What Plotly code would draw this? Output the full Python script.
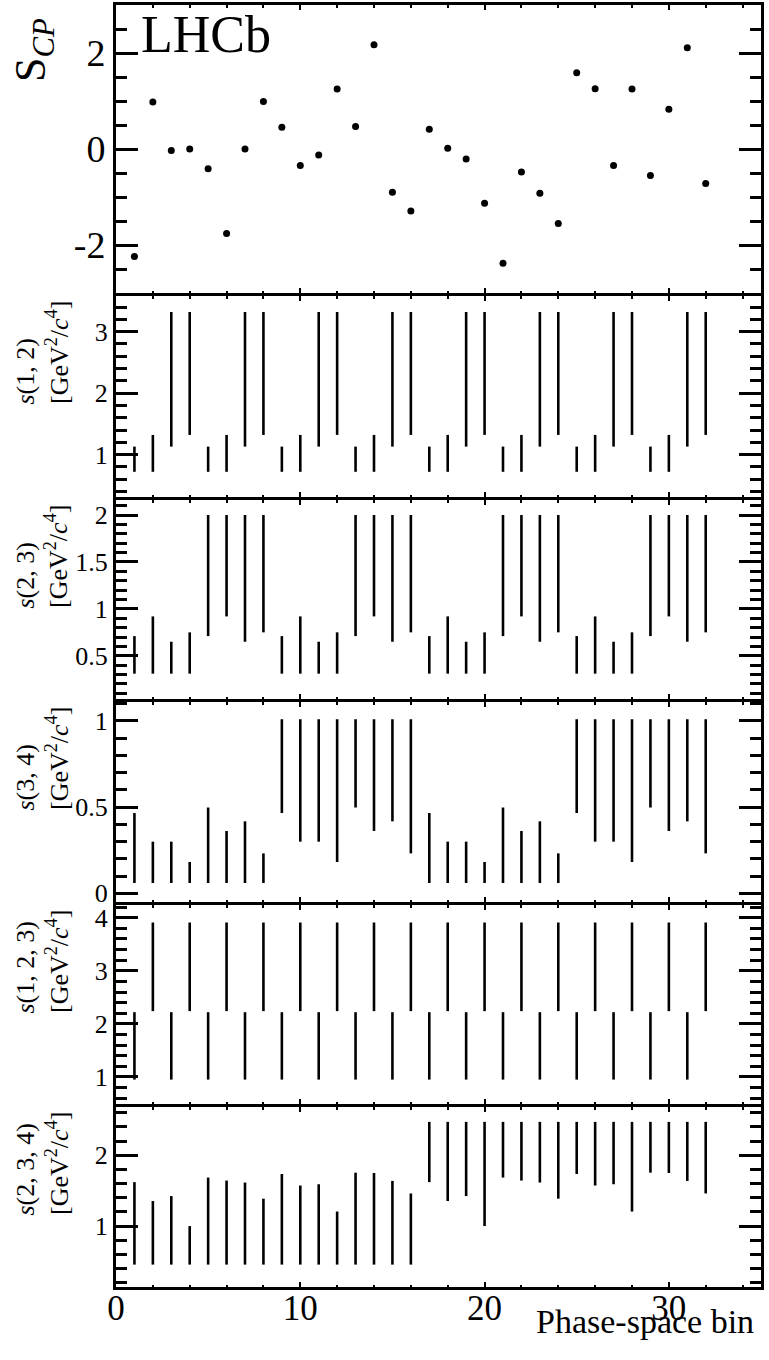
import plotly.graph_objects as go

# ---------------- data ----------------
bins = list(range(1, 33))

scp = [-2.24, 0.98, -0.03, 0.00, -0.41, -1.76, 0.00, 0.99,
       0.455, -0.345, -0.124, 1.25, 0.47, 2.17, -0.90, -1.29,
       0.41, 0.014, -0.21, -1.13, -2.38, -0.48, -0.92, -1.55,
       1.59, 1.255, -0.345, 1.25, -0.55, 0.83, 2.11, -0.72]

s12_lo = [0.72, 0.72, 1.13, 1.32, 0.72, 0.72, 1.13, 1.32,
          0.72, 0.72, 1.13, 1.32, 0.72, 0.72, 1.13, 1.32,
          0.72, 0.72, 1.13, 1.32, 0.72, 0.72, 1.13, 1.32,
          0.72, 0.72, 1.13, 1.32, 0.72, 0.72, 1.13, 1.32]
s12_hi = [1.13, 1.32, 3.32, 3.32, 1.13, 1.32, 3.32, 3.32,
          1.13, 1.32, 3.32, 3.32, 1.13, 1.32, 3.32, 3.32,
          1.13, 1.32, 3.32, 3.32, 1.13, 1.32, 3.32, 3.32,
          1.13, 1.32, 3.32, 3.32, 1.13, 1.32, 3.32, 3.32]

s23_lo = [0.31, 0.31, 0.31, 0.31, 0.71, 0.92, 0.65, 0.75,
          0.31, 0.31, 0.31, 0.31, 0.71, 0.92, 0.65, 0.75,
          0.31, 0.31, 0.31, 0.31, 0.71, 0.92, 0.65, 0.75,
          0.31, 0.31, 0.31, 0.31, 0.71, 0.92, 0.65, 0.75]
s23_hi = [0.71, 0.92, 0.65, 0.75, 2.00, 2.00, 2.00, 2.00,
          0.71, 0.92, 0.65, 0.75, 2.00, 2.00, 2.00, 2.00,
          0.71, 0.92, 0.65, 0.75, 2.00, 2.00, 2.00, 2.00,
          0.71, 0.92, 0.65, 0.75, 2.00, 2.00, 2.00, 2.00]

s34_lo = [0.06, 0.06, 0.06, 0.06, 0.06, 0.06, 0.06, 0.06,
          0.466, 0.30, 0.30, 0.182, 0.498, 0.362, 0.418, 0.232,
          0.06, 0.06, 0.06, 0.06, 0.06, 0.06, 0.06, 0.06,
          0.466, 0.30, 0.30, 0.182, 0.498, 0.362, 0.418, 0.232]
s34_hi = [0.466, 0.30, 0.30, 0.182, 0.498, 0.362, 0.418, 0.232,
          1.01, 1.01, 1.01, 1.01, 1.01, 1.01, 1.01, 1.01,
          0.466, 0.30, 0.30, 0.182, 0.498, 0.362, 0.418, 0.232,
          1.01, 1.01, 1.01, 1.01, 1.01, 1.01, 1.01, 1.01]

s123_lo = [0.95, 2.24, 0.95, 2.24, 0.95, 2.24, 0.95, 2.24,
           0.95, 2.24, 0.95, 2.24, 0.95, 2.24, 0.95, 2.24,
           0.95, 2.24, 0.95, 2.24, 0.95, 2.24, 0.95, 2.24,
           0.95, 2.24, 0.95, 2.24, 0.95, 2.24, 0.95, 2.24]
s123_hi = [2.22, 3.91, 2.22, 3.91, 2.22, 3.91, 2.22, 3.91,
           2.22, 3.91, 2.22, 3.91, 2.22, 3.91, 2.22, 3.91,
           2.22, 3.91, 2.22, 3.91, 2.22, 3.91, 2.22, 3.91,
           2.22, 3.91, 2.22, 3.91, 2.22, 3.91, 2.22, 3.91]

s234_lo = [0.456, 0.456, 0.456, 0.456, 0.456, 0.456, 0.456, 0.456,
           0.456, 0.456, 0.456, 0.456, 0.456, 0.456, 0.456, 0.456,
           1.62, 1.353, 1.423, 1.00, 1.684, 1.642, 1.614, 1.386,
           1.735, 1.572, 1.59, 1.205, 1.753, 1.749, 1.637, 1.46]
s234_hi = [1.62, 1.353, 1.423, 1.00, 1.684, 1.642, 1.614, 1.386,
           1.735, 1.572, 1.59, 1.205, 1.753, 1.749, 1.637, 1.46,
           2.47, 2.47, 2.47, 2.47, 2.47, 2.47, 2.47, 2.47,
           2.47, 2.47, 2.47, 2.47, 2.47, 2.47, 2.47, 2.47]

y_titles = [
    ["S<sub><i>CP</i></sub>"],
    ["<i>s</i>(1, 2)", "[GeV<sup>2</sup>/<i>c</i><sup>4</sup>]"],
    ["<i>s</i>(2, 3)", "[GeV<sup>2</sup>/<i>c</i><sup>4</sup>]"],
    ["<i>s</i>(3, 4)", "[GeV<sup>2</sup>/<i>c</i><sup>4</sup>]"],
    ["<i>s</i>(1, 2, 3)", "[GeV<sup>2</sup>/<i>c</i><sup>4</sup>]"],
    ["<i>s</i>(2, 3, 4)", "[GeV<sup>2</sup>/<i>c</i><sup>4</sup>]"],
]
x_title = "Phase-space bin"

# ---------------- layout geometry ----------------
FONT = "Liberation Serif"
W_PX, H_PX = 769, 1360
L, R, T, B = 116, 8, 5, 73
PW = W_PX - L - R
PH = H_PX - T - B
LW = 3  # frame line width


def xp(px):
    return (px - L) / PW


def yp(py):
    return (H_PX - B - py) / PH


bounds = [3.5, 294.5, 498.5, 700.5, 903.5, 1105.5, 1288.5]

panel_cfg = [
    dict(rng=[-3, 3], dtick=2, minor=0.5),
    dict(rng=[0.31, 3.58], dtick=1, minor=0.2),
    dict(rng=[0.04, 2.16], dtick=0.5, minor=0.1),
    dict(rng=[-0.05, 1.11], dtick=0.5, minor=0.1),
    dict(rng=[0.49, 4.24], dtick=1, minor=0.2),
    dict(rng=[0.14, 2.68], dtick=1, minor=0.2),
]

segments = [(s12_lo, s12_hi), (s23_lo, s23_hi), (s34_lo, s34_hi),
            (s123_lo, s123_hi), (s234_lo, s234_hi)]

fig = go.Figure()

fig.add_trace(go.Scatter(x=bins, y=scp, mode="markers",
                         marker=dict(color="black", size=7),
                         xaxis="x", yaxis="y", showlegend=False))

for i, (lo, hi) in enumerate(segments, start=2):
    xs, ys = [], []
    for b, a, c in zip(bins, lo, hi):
        xs += [b, b, None]
        ys += [a, c, None]
    fig.add_trace(go.Scatter(x=xs, y=ys, mode="lines",
                             line=dict(color="black", width=2.6),
                             xaxis=f"x{i}", yaxis=f"y{i}",
                             showlegend=False, connectgaps=False))

layout = dict(
    template="none",
    width=W_PX, height=H_PX,
    margin=dict(l=L, r=R, t=T, b=B, autoexpand=False),
    paper_bgcolor="white", plot_bgcolor="white",
    font=dict(family=FONT, color="black"),
    showlegend=False,
)

for i, cfg in enumerate(panel_cfg, start=1):
    sfx = "" if i == 1 else str(i)
    top_px = bounds[i - 1] + LW / 2
    bot_px = bounds[i] - LW / 2
    xa = dict(
        domain=[0, 1], range=[0, 35], anchor=f"y{sfx}",
        showline=True, linewidth=LW, linecolor="black", mirror="ticks",
        ticks="inside", ticklen=5, tickwidth=2, tickcolor="black",
        dtick=10, tick0=0,
        minor=dict(ticks="inside", ticklen=2.5, tickwidth=2,
                   dtick=2, tickcolor="black"),
        showgrid=False, zeroline=False, automargin=False,
        showticklabels=(i == 6),
        tickfont=dict(family=FONT, size=35, color="black"),
    )
    if i == 6:
        xa["ticklabelstandoff"] = -12
    if i > 1:
        xa["matches"] = "x"
    ya = dict(
        domain=[yp(bot_px), yp(top_px)], range=cfg["rng"], anchor=f"x{sfx}",
        showline=True, linewidth=LW, linecolor="black", mirror="ticks",
        ticks="inside", ticklen=22, tickwidth=3, tickcolor="black",
        dtick=cfg["dtick"], tick0=0,
        minor=dict(ticks="inside", ticklen=11, tickwidth=3,
                   dtick=cfg["minor"], tickcolor="black"),
        showgrid=False, zeroline=False, automargin=False,
        tickfont=dict(family=FONT, size=38 if i == 1 else 26, color="black"),
    )
    if i == 1:
        ya["tickmode"] = "array"
        ya["tickvals"] = [-2, 0, 2]
        ya["ticktext"] = ["-2", "0", "2"]
    layout[f"xaxis{sfx}"] = xa
    layout[f"yaxis{sfx}"] = ya

annotations = []
annotations.append(dict(text="LHCb", xref="paper", yref="paper",
                        x=xp(139), y=yp(34), xanchor="left", yanchor="middle",
                        showarrow=False,
                        font=dict(family=FONT, size=52, color="black")))
annotations.append(dict(text=y_titles[0][0], xref="paper", yref="paper",
                        x=xp(33), y=yp(50), xanchor="center", yanchor="middle",
                        textangle=-90, showarrow=False,
                        font=dict(family=FONT, size=44, color="black")))
for i in range(2, 7):
    top_px = bounds[i - 1]
    for line, cx in zip(y_titles[i - 1], [25, 57]):
        annotations.append(dict(text=line, xref="paper", yref="paper",
                                x=xp(cx), y=yp(top_px + 112),
                                xanchor="center", yanchor="bottom",
                                textangle=-90, showarrow=False,
                                font=dict(family=FONT, size=26, color="black")))
annotations.append(dict(text=x_title, xref="paper", yref="paper",
                        x=xp(756), y=yp(1321), xanchor="right", yanchor="middle",
                        showarrow=False,
                        font=dict(family=FONT, size=34, color="black")))
layout["annotations"] = annotations

fig.update_layout(**layout)
fig.write_html("out.html",
               config={"displayModeBar": False},
               post_script="document.body.style.margin='0px';"
                           "document.body.style.overflow='hidden';")
